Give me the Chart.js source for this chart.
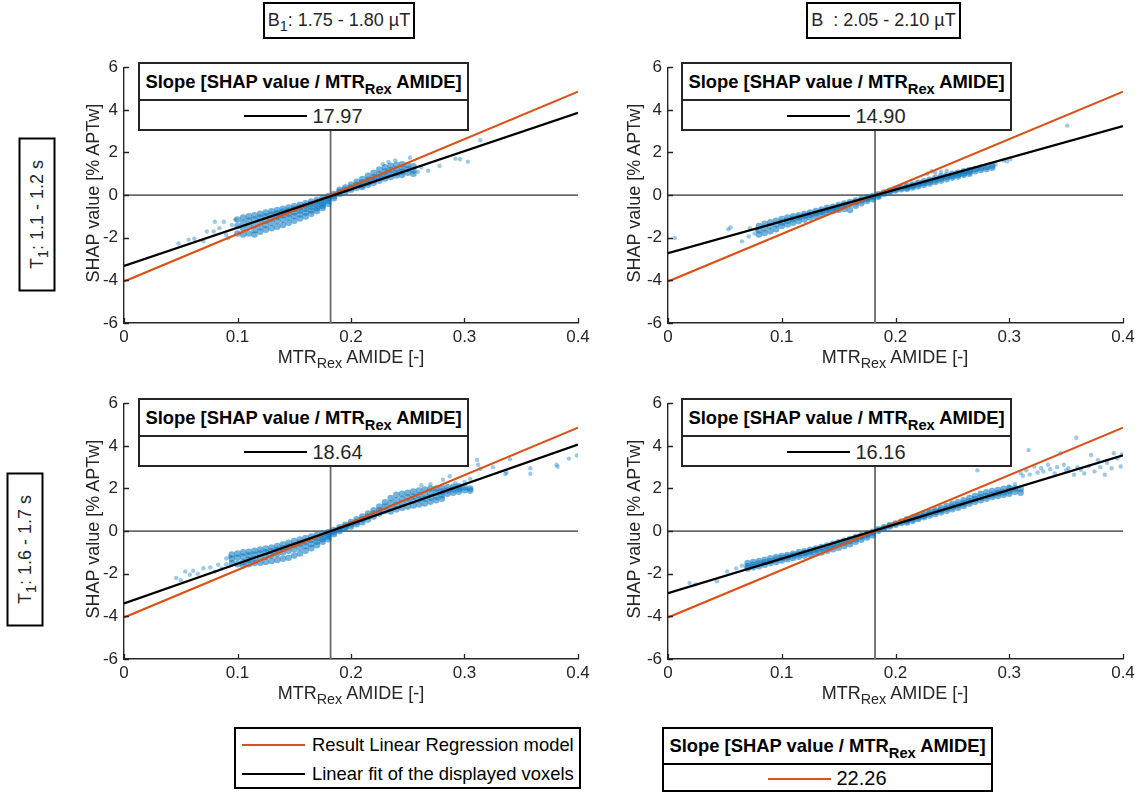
<!DOCTYPE html>
<html>
<head>
<meta charset="utf-8">
<script src="https://cdn.jsdelivr.net/npm/chart.js@4.4.1/dist/chart.umd.min.js"></script>
<style>
  body { margin:0; background:#fff; width:1137px; height:798px; position:relative; overflow:hidden;
         font-family:"Liberation Sans", Arial, Helvetica, sans-serif; color:#262626; }
  canvas.panel { position:absolute; }
  sub { font-size:0.8em; vertical-align:-0.38em; line-height:0; }
  .hdr { position:absolute; border:2px solid #000; box-sizing:border-box; background:#fff; font-size:18px;
         display:flex; align-items:center; justify-content:center; white-space:nowrap; color:#262626; }
  .rowlab { position:absolute; border:2px solid #000; box-sizing:border-box; background:#fff; font-size:18px;
            display:flex; align-items:center; justify-content:center; white-space:nowrap; transform:rotate(-90deg); color:#262626; }
  .ytitle { position:absolute; width:300px; height:22px; line-height:22px; text-align:center; font-size:18px;
            transform:rotate(-90deg); white-space:nowrap; color:#262626; }
  .xtitle { position:absolute; width:300px; line-height:21px; text-align:center; font-size:18px; white-space:nowrap; color:#262626; }
  .slope { position:absolute; height:69px; border:2px solid #262626; box-sizing:border-box; background:#fff; }
  .slope .sh { height:35px; border-bottom:2px solid #262626; display:flex; align-items:center; justify-content:center;
               font-weight:bold; font-size:18.4px; color:#000; white-space:nowrap; }
  .slope .sv { height:30px; display:flex; align-items:center; justify-content:center; font-size:20px; color:#262626; }
  .ln { display:inline-block; width:63px; height:2px; margin-right:5px; }
  .legend { position:absolute; left:234px; top:727px; width:347px; height:62px; border:2px solid #000; box-sizing:border-box;
            background:#fff; padding-top:1px; }
  .legend .it { height:29px; display:flex; align-items:center; padding-left:6px; font-size:18.4px; color:#000; white-space:nowrap; }
  .legend .ln { margin-right:7px; }
  .mslope { position:absolute; left:662px; top:727px; width:331px; height:65px; border:2px solid #000; box-sizing:border-box; background:#fff; }
  .mslope .sh { height:34px; border-bottom:2px solid #000; display:flex; align-items:center; justify-content:center;
                font-weight:bold; font-size:18.4px; color:#000; white-space:nowrap; }
  .mslope .sv { height:27px; display:flex; align-items:center; justify-content:center; font-size:20px; color:#000; }
</style>
</head>
<body>

<canvas id="c0" class="panel"></canvas>
<canvas id="c1" class="panel"></canvas>
<canvas id="c2" class="panel"></canvas>
<canvas id="c3" class="panel"></canvas>

<div class="hdr" style="left:263px;top:2px;width:152px;height:37px;"><span>B<sub>1</sub>: 1.75 - 1.80 µT</span></div>
<div class="hdr" style="left:806px;top:2px;width:155px;height:37px;"><span>B&nbsp;&nbsp;: 2.05 - 2.10 µT</span></div>

<div class="rowlab" style="left:-40px;top:196px;width:154px;height:37px;"><span>T<sub>1</sub>: 1.1 - 1.2 s</span></div>
<div class="rowlab" style="left:-52px;top:531px;width:154px;height:37px;"><span>T<sub>1</sub>: 1.6 - 1.7 s</span></div>

<div class="ytitle" style="left:-57px;top:182px;">SHAP value [% APTw]</div>
<div class="ytitle" style="left:484px;top:182px;">SHAP value [% APTw]</div>
<div class="ytitle" style="left:-57px;top:518px;">SHAP value [% APTw]</div>
<div class="ytitle" style="left:484px;top:518px;">SHAP value [% APTw]</div>

<div class="xtitle" style="left:201px;top:347px;">MTR<sub>Rex</sub> AMIDE [-]</div>
<div class="xtitle" style="left:745px;top:347px;">MTR<sub>Rex</sub> AMIDE [-]</div>
<div class="xtitle" style="left:201px;top:683px;">MTR<sub>Rex</sub> AMIDE [-]</div>
<div class="xtitle" style="left:745px;top:683px;">MTR<sub>Rex</sub> AMIDE [-]</div>

<div class="slope" style="left:138px;top:62px;width:331px;">
  <div class="sh"><span>Slope [SHAP value / MTR<sub>Rex</sub> AMIDE]</span></div>
  <div class="sv"><span class="ln" style="background:#000"></span><span id="v0"></span></div>
</div>
<div class="slope" style="left:681px;top:62px;width:331px;">
  <div class="sh"><span>Slope [SHAP value / MTR<sub>Rex</sub> AMIDE]</span></div>
  <div class="sv"><span class="ln" style="background:#000"></span><span id="v1"></span></div>
</div>
<div class="slope" style="left:138px;top:398px;width:331px;">
  <div class="sh"><span>Slope [SHAP value / MTR<sub>Rex</sub> AMIDE]</span></div>
  <div class="sv"><span class="ln" style="background:#000"></span><span id="v2"></span></div>
</div>
<div class="slope" style="left:681px;top:398px;width:331px;">
  <div class="sh"><span>Slope [SHAP value / MTR<sub>Rex</sub> AMIDE]</span></div>
  <div class="sv"><span class="ln" style="background:#000"></span><span id="v3"></span></div>
</div>

<div class="legend">
  <div class="it"><span class="ln" style="background:#D95319"></span><span>Result Linear Regression model</span></div>
  <div class="it"><span class="ln" style="background:#000"></span><span>Linear fit of the displayed voxels</span></div>
</div>
<div class="mslope">
  <div class="sh"><span>Slope [SHAP value / MTR<sub>Rex</sub> AMIDE]</span></div>
  <div class="sv"><span class="ln" style="background:#D95319"></span><span id="vm"></span></div>
</div>

<script>
// Axis ticks
const xTicks = [0, 0.1, 0.2, 0.3, 0.4];
const xTickLabels = ['0', '0.1', '0.2', '0.3', '0.4'];
const yTicks = [-6, -4, -2, 0, 2, 4, 6];
const yTickLabels = ['-6', '-4', '-2', '0', '2', '4', '6'];

// Regression model (same in every panel): slope and zero crossing on the MTRRex axis
const modelSlope = 22.26;
const modelZeroX = 0.182;
// Reference MTRRex value marked by the vertical line
const refX = 0.182;

// Linear fit of the displayed voxels, per panel (TL, TR, BL, BR)
const fitSlopes = [17.97, 14.90, 18.64, 16.16];
const fitZeroX  = [0.185, 0.183, 0.182, 0.180];

// Voxel clouds. Dense core rows: [MTRRex, SHAP, SHAP, ...]; scattered voxels: [MTRRex, SHAP]
const coreTL = [
  [0.100,-1.15,-1.45,-1.80],[0.105,-1.05,-1.30,-1.55,-1.85],[0.110,-1.00,-1.20,-1.45,-1.80],
  [0.115,-0.95,-1.15,-1.40,-1.65,-1.85],[0.120,-0.88,-1.05,-1.25,-1.50,-1.72],[0.125,-0.82,-1.00,-1.20,-1.40,-1.62],
  [0.130,-0.76,-0.92,-1.10,-1.30,-1.55],[0.135,-0.70,-0.85,-1.02,-1.22,-1.48],[0.140,-0.64,-0.78,-0.95,-1.15,-1.40],
  [0.145,-0.58,-0.72,-0.88,-1.05,-1.30],[0.150,-0.52,-0.65,-0.80,-0.98,-1.20],[0.155,-0.45,-0.58,-0.72,-0.90,-1.10],
  [0.160,-0.38,-0.50,-0.65,-0.82,-1.00],[0.165,-0.30,-0.42,-0.56,-0.72,-0.88],[0.170,-0.22,-0.34,-0.48,-0.62,-0.75],
  [0.175,-0.14,-0.25,-0.38,-0.50,-0.60],[0.180,-0.05,-0.15,-0.28,-0.40],[0.185,0.05,-0.05,-0.15],
  [0.190,0.25,0.15,0.05],[0.195,0.35,0.25,0.15],[0.200,0.48,0.35,0.25],[0.205,0.62,0.48,0.35],
  [0.210,0.75,0.60,0.45,0.38],[0.215,0.90,0.72,0.58,0.48],[0.220,1.05,0.85,0.70,0.58],[0.225,1.20,0.98,0.82,0.68],
  [0.230,1.30,1.10,0.92,0.78],[0.235,1.38,1.18,1.00,0.85],[0.240,1.42,1.22,1.05,0.92],[0.245,1.45,1.25,1.10,0.95],
  [0.250,1.40,1.22,1.05],[0.255,1.35,1.15,1.00]
];
const sparseTL = [
  [0.048,-2.27],[0.057,-2.09],[0.062,-2.05],[0.070,-2.17],[0.073,-1.71],[0.079,-1.71],[0.080,-1.25],
  [0.084,-1.55],[0.088,-1.25],[0.090,-1.86],[0.092,-2.02],[0.095,-1.40],[0.098,-1.15],
  [0.228,1.45],[0.233,1.55],[0.239,1.63],[0.252,1.75],[0.259,1.09],[0.262,1.30],[0.268,1.14],[0.278,1.37],
  [0.292,1.71],[0.296,1.68],[0.303,1.57],[0.314,2.57]
];
const coreTR = [
  [0.080,-1.45,-1.65,-1.85],[0.085,-1.35,-1.55,-1.78],[0.090,-1.28,-1.45,-1.70],[0.095,-1.20,-1.38,-1.60],
  [0.100,-1.12,-1.28,-1.45],[0.105,-1.05,-1.20,-1.38],[0.110,-1.00,-1.12,-1.30],[0.115,-0.95,-1.05,-1.22],
  [0.120,-0.88,-0.98,-1.15],[0.125,-0.82,-0.92,-1.05],[0.130,-0.75,-0.85,-0.98],[0.135,-0.68,-0.78,-0.90],
  [0.140,-0.60,-0.70,-0.82],[0.145,-0.55,-0.64,-0.75],[0.150,-0.47,-0.56,-0.70],[0.155,-0.40,-0.48,-0.65],
  [0.160,-0.33,-0.42,-0.70],[0.165,-0.26,-0.33,-0.50],[0.170,-0.18,-0.25,-0.38],[0.175,-0.11,-0.18,-0.28],
  [0.180,-0.04,-0.10,-0.20],[0.185,0.04,-0.02,-0.08],[0.190,0.12,0.06],[0.195,0.20,0.14],[0.200,0.28,0.22],
  [0.205,0.35,0.28],[0.210,0.43,0.36,0.30],[0.215,0.50,0.43,0.36],[0.220,0.58,0.50,0.42],[0.225,0.65,0.57,0.48],
  [0.230,0.72,0.63,0.55],[0.235,0.80,0.70,0.62],[0.240,0.88,0.78,0.68],[0.245,0.93,0.85,0.75],
  [0.250,1.00,0.90,0.82],[0.255,1.05,0.96,0.88],[0.260,1.12,1.02,0.95],[0.265,1.18,1.08,1.00],
  [0.270,1.22,1.12],[0.275,1.28,1.18],[0.280,1.32,1.22],[0.285,1.38,1.28]
];
const sparseTR = [
  [0.006,-2.01],[0.053,-1.60],[0.055,-1.52],[0.065,-2.17],[0.071,-1.94],[0.072,-1.55],[0.076,-1.80],[0.078,-1.62],
  [0.228,1.00],[0.232,1.12],[0.235,1.05],[0.240,1.10],[0.245,1.15],[0.288,1.45],[0.295,1.62],[0.298,1.58],
  [0.301,1.68],[0.351,3.26]
];
const coreBL = [
  [0.095,-1.10,-1.30,-1.50],[0.100,-1.05,-1.25,-1.55],[0.105,-1.00,-1.20,-1.45,-1.60],[0.110,-0.97,-1.15,-1.35,-1.55],
  [0.115,-0.92,-1.10,-1.30,-1.50],[0.120,-0.87,-1.05,-1.25,-1.48],[0.125,-0.82,-1.00,-1.20,-1.45],
  [0.130,-0.77,-0.95,-1.15,-1.40],[0.135,-0.70,-0.88,-1.08,-1.35],[0.140,-0.62,-0.80,-1.00,-1.30],
  [0.145,-0.55,-0.72,-0.92,-1.25],[0.150,-0.47,-0.65,-0.85,-1.15],[0.155,-0.40,-0.58,-0.78,-1.05],
  [0.160,-0.33,-0.50,-0.70,-0.92],[0.165,-0.26,-0.42,-0.60,-0.80],[0.170,-0.19,-0.33,-0.50,-0.66],
  [0.175,-0.12,-0.25,-0.38,-0.50],[0.180,-0.05,-0.15,-0.26,-0.38],[0.185,0.05,-0.05,-0.15],
  [0.190,0.18,0.08,0.00],[0.195,0.30,0.20,0.12],[0.200,0.42,0.32,0.22],[0.205,0.55,0.42,0.32],
  [0.210,0.68,0.55,0.42],[0.215,0.82,0.68,0.55],[0.220,0.98,0.82,0.68],[0.225,1.15,0.98,0.82],
  [0.230,1.35,1.15,0.95],[0.235,1.55,1.30,1.08,0.92],[0.240,1.70,1.45,1.22,1.02],[0.245,1.75,1.52,1.30,1.10],
  [0.250,1.80,1.58,1.38,1.15],[0.255,1.85,1.62,1.42,1.20],[0.260,1.90,1.68,1.48,1.25],[0.265,1.95,1.72,1.52,1.30],
  [0.270,2.00,1.78,1.58,1.38],[0.275,2.00,1.82,1.62,1.45],[0.280,2.02,1.85,1.68,1.52],[0.285,2.05,1.90,1.75],
  [0.290,2.08,1.95,1.80],[0.295,2.10,1.98,1.85],[0.300,2.05,1.92],[0.305,2.00,1.90]
];
const sparseBL = [
  [0.046,-2.20],[0.050,-2.30],[0.054,-1.89],[0.058,-2.05],[0.061,-1.86],[0.065,-2.00],[0.070,-1.74],
  [0.076,-1.71],[0.080,-1.90],[0.083,-1.58],[0.086,-1.75],[0.090,-1.28],[0.090,-1.55],[0.093,-1.20],
  [0.262,2.15],[0.270,2.20],[0.281,2.41],[0.287,2.57],[0.292,2.25],[0.300,2.30],[0.305,2.45],[0.311,3.34],
  [0.312,3.11],[0.314,2.91],[0.325,3.00],[0.336,2.68],[0.337,2.75],[0.340,3.37],[0.358,2.95],[0.358,2.69],
  [0.381,3.11],[0.382,3.02],[0.392,3.40],[0.399,3.55]
];
const coreBR = [
  [0.070,-1.50,-1.65,-1.75],[0.075,-1.45,-1.58,-1.70],[0.080,-1.40,-1.52,-1.65],[0.085,-1.35,-1.46,-1.58],
  [0.090,-1.28,-1.40,-1.50],[0.095,-1.22,-1.33,-1.45],[0.100,-1.17,-1.27,-1.38],[0.105,-1.12,-1.22,-1.32],
  [0.110,-1.06,-1.15,-1.26],[0.115,-1.00,-1.10,-1.20],[0.120,-0.95,-1.03,-1.15],[0.125,-0.88,-0.97,-1.10],
  [0.130,-0.82,-0.90,-1.05],[0.135,-0.75,-0.83,-1.00],[0.140,-0.68,-0.77,-0.92],[0.145,-0.60,-0.70,-0.85],
  [0.150,-0.52,-0.62,-0.78],[0.155,-0.45,-0.55,-0.70],[0.160,-0.37,-0.47,-0.62],[0.165,-0.28,-0.38,-0.50],
  [0.170,-0.20,-0.28,-0.40],[0.175,-0.12,-0.20,-0.30],[0.180,-0.03,-0.10,-0.20],[0.185,0.08,0.02],
  [0.190,0.18,0.12],[0.195,0.28,0.22],[0.200,0.36,0.30],[0.205,0.45,0.38],[0.210,0.55,0.47,0.40],
  [0.215,0.63,0.56,0.48],[0.220,0.72,0.64,0.57],[0.225,0.80,0.72,0.65],[0.230,0.90,0.82,0.73],
  [0.235,0.98,0.90,0.80],[0.240,1.08,0.98,0.88],[0.245,1.18,1.06,0.95],[0.250,1.28,1.15,1.03],
  [0.255,1.35,1.22,1.10],[0.260,1.45,1.30,1.18],[0.265,1.55,1.40,1.28],[0.270,1.65,1.50,1.38],
  [0.275,1.75,1.58,1.45],[0.280,1.82,1.65,1.52],[0.285,1.88,1.72,1.60],[0.290,1.92,1.78,1.65],
  [0.295,1.98,1.82,1.70],[0.300,2.02,1.88,1.75],[0.305,2.00,1.85],[0.310,1.98,1.80]
];
const sparseBR = [
  [0.019,-2.43],[0.024,-2.50],[0.043,-2.35],[0.052,-1.89],[0.060,-1.75],[0.065,-1.62],
  [0.272,2.85],[0.300,2.10],[0.305,2.20],[0.310,2.72],[0.312,2.60],[0.315,2.85],[0.317,3.80],[0.318,2.65],
  [0.322,3.03],[0.325,2.75],[0.328,2.95],[0.330,2.80],[0.334,3.11],[0.336,2.90],[0.340,2.70],[0.342,3.00],
  [0.345,3.65],[0.348,3.11],[0.350,2.85],[0.352,2.95],[0.357,2.64],[0.359,4.38],[0.360,3.00],[0.363,2.88],
  [0.366,2.70],[0.370,3.05],[0.372,3.57],[0.375,2.80],[0.378,3.34],[0.380,3.00],[0.384,2.64],[0.386,3.20],
  [0.390,2.95],[0.392,3.65],[0.395,3.40],[0.398,3.03],[0.399,3.60]
];
const cores = [coreTL, coreTR, coreBL, coreBR];
const sparse = [sparseTL, sparseTR, sparseBL, sparseBR];

// Plot-area placement of the four panels (page pixels)
const frames = [
  { left:124, top:63,  right:578,  bottom:323 },
  { left:668, top:63,  right:1123, bottom:323 },
  { left:124, top:399, right:578,  bottom:659 },
  { left:668, top:399, right:1123, bottom:659 }
];
const PAD_L = 60, PAD_T = 12, PAD_R = 18, PAD_B = 32;
const FONT = '"Liberation Sans", Arial, Helvetica, sans-serif';
const AX = '#262626';
const DOT_CORE = 'rgba(0,114,189,0.55)';
const DOT_SPARSE = 'rgba(0,114,189,0.38)';

// MATLAB-style ticks pointing into the plot area
const inwardTicks = {
  id: 'inwardTicks',
  afterDraw(chart) {
    const { ctx, chartArea: a, scales: { x, y } } = chart;
    ctx.save();
    ctx.strokeStyle = AX;
    ctx.lineWidth = 1.3;
    ctx.beginPath();
    x.ticks.forEach(t => {
      const px = Math.round(x.getPixelForValue(t.value)) + 0.5;
      ctx.moveTo(px, a.bottom); ctx.lineTo(px, a.bottom - 5);
    });
    y.ticks.forEach(t => {
      const py = Math.round(y.getPixelForValue(t.value)) + 0.5;
      ctx.moveTo(a.left, py); ctx.lineTo(a.left + 5, py);
    });
    ctx.stroke();
    ctx.restore();
  }
};

function linePoints(slope, x0) {
  return [ { x: 0, y: slope * (0 - x0) }, { x: 0.4, y: slope * (0.4 - x0) } ];
}
function rowsToPoints(rows) {
  const out = [];
  rows.forEach(row => { for (let k = 1; k < row.length; k++) out.push({ x: row[0], y: row[k] }); });
  return out;
}

frames.forEach((f, i) => {
  const cv = document.getElementById('c' + i);
  const w = (f.right - f.left) + PAD_L + PAD_R;
  const h = (f.bottom - f.top) + PAD_T + PAD_B;
  cv.width = w; cv.height = h;
  cv.style.left = (f.left - PAD_L) + 'px';
  cv.style.top = (f.top - PAD_T) + 'px';
  cv.style.width = w + 'px';
  cv.style.height = h + 'px';

  document.getElementById('v' + i).textContent = fitSlopes[i].toFixed(2);

  new Chart(cv, {
    type: 'scatter',
    data: {
      datasets: [
        { label: 'fit', data: linePoints(fitSlopes[i], fitZeroX[i]), showLine: true, borderColor: '#000000',
          borderWidth: 2.2, pointRadius: 0, fill: false },
        { label: 'model', data: linePoints(modelSlope, modelZeroX), showLine: true, borderColor: '#D95319',
          borderWidth: 2.2, pointRadius: 0, fill: false },
        { label: 'voxels', data: rowsToPoints(cores[i]), pointRadius: 3.3, pointBorderWidth: 0,
          pointBackgroundColor: DOT_CORE, backgroundColor: DOT_CORE },
        { label: 'voxels-scattered', data: rowsToPoints(sparse[i]), pointRadius: 2.2, pointBorderWidth: 0,
          pointBackgroundColor: DOT_SPARSE, backgroundColor: DOT_SPARSE },
        { label: 'h0', data: [{ x: 0, y: 0 }, { x: 0.4, y: 0 }], showLine: true, borderColor: '#6a6a6a',
          borderWidth: 1.8, pointRadius: 0 },
        { label: 'v0', data: [{ x: refX, y: -6 }, { x: refX, y: 6 }], showLine: true, borderColor: '#6a6a6a',
          borderWidth: 1.8, pointRadius: 0 }
      ]
    },
    options: {
      responsive: false,
      animation: false,
      devicePixelRatio: 1,
      layout: { padding: { left: 0, top: PAD_T, right: PAD_R, bottom: 0 } },
      plugins: { legend: { display: false }, tooltip: { enabled: false } },
      scales: {
        x: {
          type: 'linear', min: 0, max: 0.4,
          afterBuildTicks: s => { s.ticks = xTicks.map(v => ({ value: v })); },
          afterFit: s => { s.height = PAD_B; },
          ticks: { callback: (v, k) => xTickLabels[k], color: AX, font: { family: FONT, size: 17 },
                   padding: 4, maxRotation: 0, autoSkip: false },
          grid: { display: false, drawTicks: false },
          border: { display: true, color: AX, width: 1.4 }
        },
        y: {
          type: 'linear', min: -6, max: 6,
          afterBuildTicks: s => { s.ticks = yTicks.map(v => ({ value: v })); },
          afterFit: s => { s.width = PAD_L; },
          ticks: { callback: (v, k) => yTickLabels[k], color: AX, font: { family: FONT, size: 17 },
                   padding: 6, autoSkip: false },
          grid: { display: false, drawTicks: false },
          border: { display: true, color: AX, width: 1.4 }
        }
      }
    },
    plugins: [inwardTicks]
  });
});

document.getElementById('vm').textContent = modelSlope.toFixed(2);
</script>
</body>
</html>
